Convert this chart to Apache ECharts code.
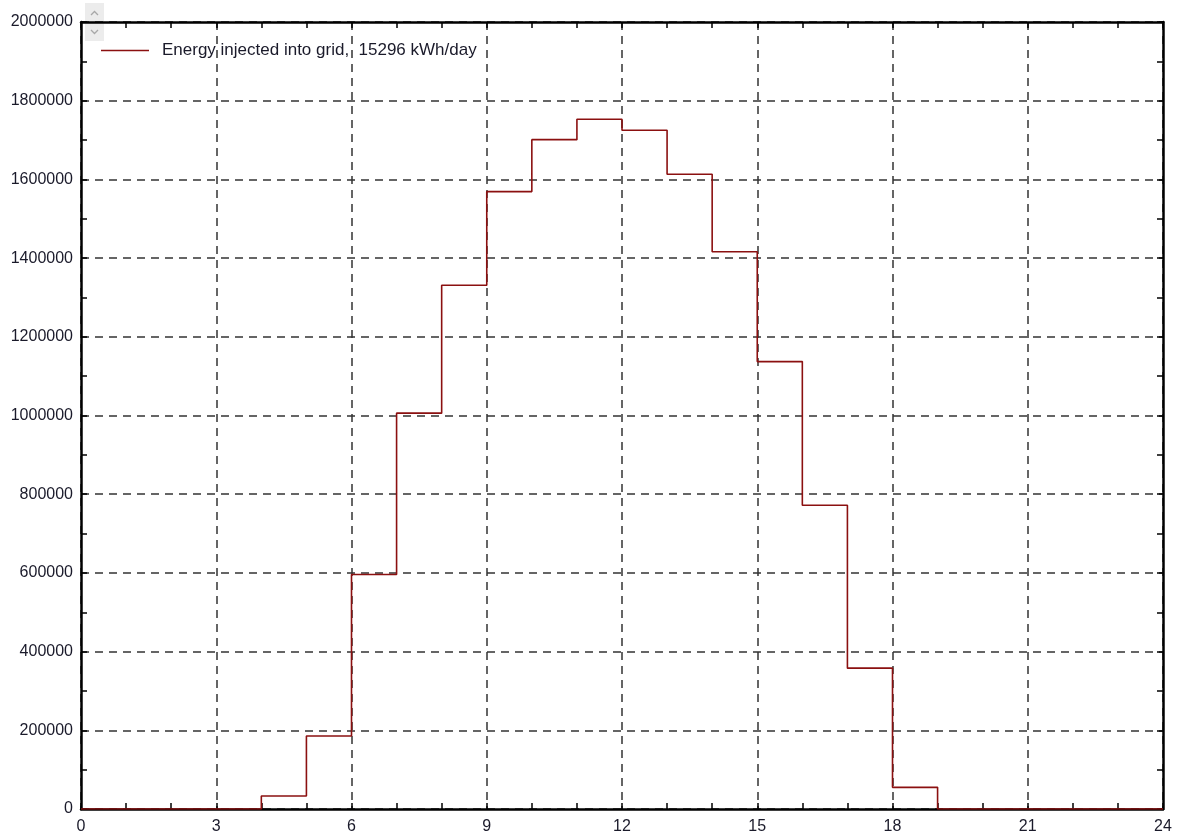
<!DOCTYPE html>
<html>
<head>
<meta charset="utf-8">
<script src="https://cdn.jsdelivr.net/npm/echarts@6/dist/echarts.min.js"></script>
<style>
  html, body { margin: 0; padding: 0; background: #fff; }
  #chart { width: 1179px; height: 839px; }
</style>
</head>
<body>
<div id="chart"></div>
<script>
// Hourly energy injected into the grid (one value per hour, 0h..23h)
const hours = [0, 1, 2, 3, 4, 5, 6, 7, 8, 9, 10, 11, 12, 13, 14, 15, 16, 17, 18, 19, 20, 21, 22, 23];
const energy = [0, 0, 0, 0, 33000, 185500, 596000, 1006000, 1331000, 1569000, 1701000, 1753000, 1725000,
                1613000, 1416000, 1137000, 772000, 358000, 55000, 0, 0, 0, 0, 0];
const seriesName = 'Energy injected into grid,  15296 kWh/day';
const xTicks = { min: 0, max: 24, step: 3 };
const yTicks = { min: 0, max: 2000000, step: 200000 };

// Step points: each hour's value holds until the next hour; close at 24h
const stepData = hours.map((h, i) => [h, energy[i]]);
stepData.push([xTicks.max, energy[energy.length - 1]]);

const font = 'Liberation Sans, Arial, sans-serif';
const labelColor = '#1a1a2a';
const gridDash = { color: '#333', width: 1.5, type: [8, 6] };

const chart = echarts.init(document.getElementById('chart'), null, { renderer: 'canvas' });

const frameAxis = (pos, isX) => ({
  type: 'value',
  position: pos,
  min: isX ? xTicks.min : yTicks.min,
  max: isX ? xTicks.max : yTicks.max,
  interval: isX ? xTicks.step : yTicks.step,
  axisLine: { show: true, onZero: false, lineStyle: { color: '#000', width: 2.5 } },
  axisTick: { show: true, inside: true, length: 6, lineStyle: { color: '#000', width: 1.5 } },
  minorTick: { show: true, splitNumber: isX ? 3 : 2, length: 6, lineStyle: { color: '#000', width: 1.5 } },
  axisLabel: { show: false },
  splitLine: { show: false }
});

chart.setOption({
  animation: false,
  backgroundColor: '#fff',
  textStyle: { fontFamily: font },
  grid: { left: 81, right: 16, top: 22, bottom: 30, containLabel: false },
  legend: {
    show: true,
    left: 96,
    top: 37,
    itemWidth: 48,
    itemHeight: 16,
    textStyle: { fontFamily: font, fontSize: 17, color: labelColor, padding: [0, 0, 0, 8] },
    data: [{ name: seriesName, icon: 'path://M0,7.3 L48,7.3 L48,8.7 L0,8.7 Z' }]
  },
  xAxis: [
    Object.assign(frameAxis('bottom', true), {
      axisLabel: { show: true, fontFamily: font, fontSize: 16, color: labelColor, margin: 10 },
      splitLine: { show: true, lineStyle: gridDash }
    }),
    frameAxis('top', true)
  ],
  yAxis: [
    Object.assign(frameAxis('left', false), {
      axisLabel: { show: true, fontFamily: font, fontSize: 16, color: labelColor, margin: 8,
                   formatter: v => String(v) },
      splitLine: { show: true, lineStyle: gridDash }
    }),
    frameAxis('right', false)
  ],
  series: [{
    name: seriesName,
    type: 'line',
    step: 'end',
    symbol: 'none',
    color: '#8b1010',
    lineStyle: { color: '#8b1010', width: 1.6 },
    data: stepData,
    z: 5
  }],
  graphic: [
    // small scroll control in the top-left corner
    {
      type: 'group', left: 85, top: 3,
      children: [
        { type: 'rect', shape: { x: 0, y: 0, width: 19, height: 38 }, style: { fill: '#ececec' } },
        { type: 'polyline', shape: { points: [[6, 12], [9.5, 8.5], [13, 12]] },
          style: { stroke: '#a8a8a8', lineWidth: 1.3, fill: null } },
        { type: 'polyline', shape: { points: [[6, 27], [9.5, 30.5], [13, 27]] },
          style: { stroke: '#a8a8a8', lineWidth: 1.3, fill: null } }
      ]
    }
  ]
});
</script>
</body>
</html>
